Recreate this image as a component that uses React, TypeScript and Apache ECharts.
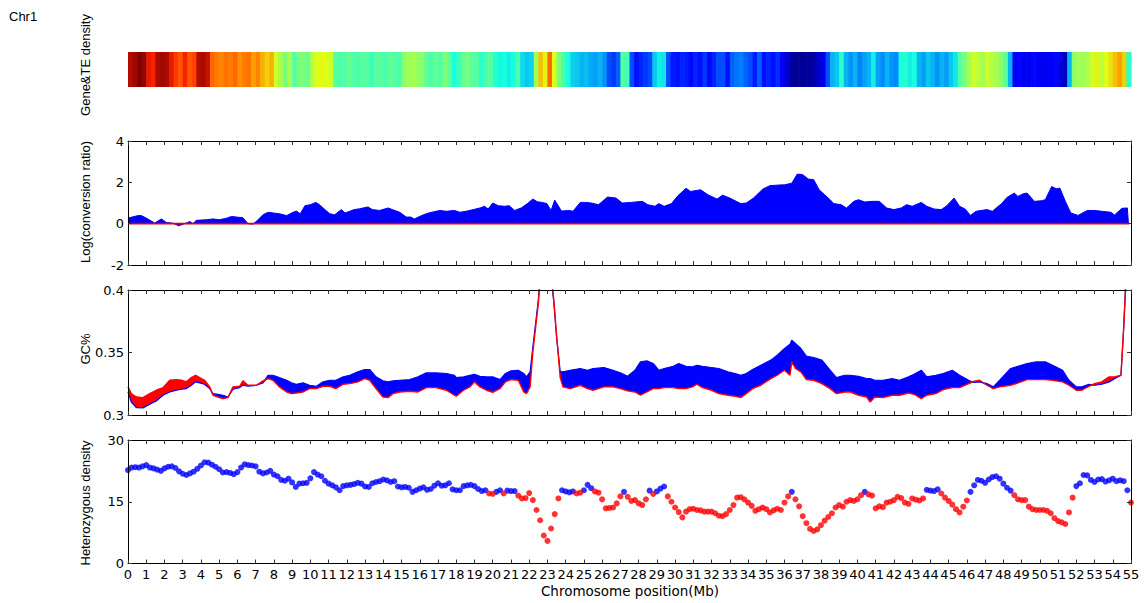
import React, { useEffect, useRef } from 'react';
import * as echarts from 'echarts';

// ---------- DATA ----------
const chromName = 'Chr1';
const xMin = 0;
const xMax = 55;

// Gene & TE density strip (0.25 Mb bins, 0..1 scaled)
const heatStep = 0.25;
const heatValues = [
  0.95,0.97,1.0,0.98,0.9,0.88,0.96,0.97,0.96,0.9,0.85,0.82,0.88,0.82,0.84,0.95,0.96,0.93,0.8,0.78,
  0.77,0.79,0.78,0.8,0.76,0.78,0.79,0.74,0.77,0.72,0.68,0.72,0.6,0.55,0.5,0.55,0.45,0.5,0.5,0.48,
  0.58,0.62,0.63,0.62,0.6,0.46,0.44,0.45,0.47,0.45,0.44,0.46,0.45,0.42,0.46,0.45,0.44,0.47,0.45,0.44,
  0.52,0.54,0.55,0.53,0.52,0.46,0.44,0.47,0.45,0.5,0.46,0.38,0.42,0.47,0.5,0.46,0.45,0.4,0.44,0.46,
  0.4,0.37,0.38,0.36,0.38,0.44,0.34,0.32,0.33,0.55,0.7,0.64,0.8,0.62,0.5,0.44,0.38,0.33,0.32,0.3,
  0.31,0.29,0.28,0.3,0.27,0.2,0.18,0.22,0.45,0.43,0.2,0.14,0.16,0.18,0.2,0.32,0.36,0.35,0.2,0.15,
  0.14,0.16,0.15,0.13,0.16,0.14,0.18,0.13,0.16,0.2,0.2,0.14,0.22,0.24,0.25,0.22,0.2,0.15,0.22,0.14,
  0.16,0.14,0.17,0.12,0.08,0.03,0.02,0.02,0.03,0.02,0.04,0.08,0.1,0.2,0.3,0.32,0.4,0.3,0.27,0.3,
  0.25,0.28,0.3,0.36,0.28,0.26,0.3,0.27,0.26,0.38,0.4,0.36,0.38,0.3,0.28,0.32,0.3,0.27,0.3,0.28,
  0.32,0.35,0.45,0.5,0.55,0.6,0.58,0.55,0.6,0.57,0.55,0.52,0.46,0.3,0.12,0.13,0.12,0.11,0.13,0.12,
  0.11,0.12,0.12,0.13,0.1,0.06,0.3,0.52,0.55,0.54,0.56,0.6,0.64,0.58,0.62,0.66,0.7,0.74,0.68,0.4,
];

// Log(conversion ratio)
const convPos = [
  0,0.55,0.73,1.0,1.46,1.83,2.1,2.47,2.78,3.1,3.4,3.56,3.75,4.3,4.66,5.0,5.4,5.67,5.94,6.3,6.58,6.86,7.1,7.4,7.68,7.95,8.3,8.7,9.05,9.23,9.45,9.7,10.0,10.3,10.5,10.8,11.06,11.33,11.7,11.9,12.16,12.4,12.7,13.16,13.4,13.8,14.26,14.5,14.9,15.26,15.5,15.7,16.2,16.5,17.1,17.45,17.9,18.2,18.6,19.3,19.55,19.75,20.0,20.3,20.66,20.9,21.2,21.56,21.9,22.2,22.45,22.7,22.97,23.2,23.4,23.5,23.77,24.2,24.4,24.8,25.1,25.4,25.8,26.3,26.76,27.1,27.6,28.2,28.5,28.9,29.1,29.4,29.8,30.15,30.6,30.85,31.4,31.8,32.3,32.6,33.0,33.6,33.9,34.3,34.8,35.2,35.7,36.0,36.4,36.7,37.0,37.3,37.6,37.9,38.2,38.5,38.7,39.1,39.4,39.8,40.06,40.4,40.8,41.2,41.6,42.0,42.4,42.7,43.0,43.5,43.8,44.2,44.6,44.9,45.3,45.6,45.9,46.2,46.5,47.1,47.4,47.9,48.2,48.6,48.8,49.1,49.3,49.7,50.1,50.3,50.65,50.9,51.1,51.4,51.7,52.1,52.6,53.0,53.4,53.9,54.1,54.5,54.8,54.86,
];
const convVal = [
  0.27,0.39,0.39,0.27,0.03,0.23,0.06,0.02,-0.1,0.0,0.1,0.0,0.16,0.19,0.23,0.19,0.26,0.35,0.32,0.29,0.0,-0.02,0.16,0.43,0.55,0.52,0.48,0.39,0.55,0.61,0.48,0.87,0.92,1.03,0.92,0.68,0.48,0.43,0.68,0.52,0.6,0.68,0.72,0.81,0.68,0.64,0.76,0.68,0.55,0.32,0.32,0.23,0.43,0.52,0.64,0.6,0.64,0.55,0.61,0.76,0.84,0.71,1.0,0.87,0.84,0.87,0.64,0.76,0.97,1.19,1.06,1.03,0.97,0.64,1.14,1.0,0.61,0.64,0.6,1.03,1.03,1.0,0.92,1.29,1.24,1.0,1.03,1.08,0.92,0.84,0.97,0.84,0.97,1.35,1.71,1.56,1.64,1.4,1.19,1.38,1.24,0.97,1.0,1.24,1.67,1.84,1.87,1.88,1.96,2.4,2.37,2.16,2.13,1.64,1.4,1.16,0.97,0.92,0.76,1.08,1.16,1.05,1.08,1.08,0.76,0.68,0.76,0.92,0.84,1.03,0.84,0.71,0.68,0.87,1.24,0.84,0.71,0.4,0.6,0.68,0.6,0.97,1.27,1.48,1.32,1.45,1.48,1.08,1.11,1.16,1.8,1.69,1.72,1.08,0.52,0.4,0.64,0.64,0.6,0.55,0.42,0.74,0.76,0.0,
];
const refLinePos = [0, 54.9];
const refLineVal = [0, 0];

// GC%
const gcPos = [
  0,0.18,0.46,0.82,1.19,1.55,1.92,2.29,2.65,2.93,3.2,3.47,3.71,3.93,4.2,4.48,4.66,4.94,5.2,5.48,5.76,6.12,6.3,6.58,7.04,7.4,7.68,7.95,8.3,8.7,8.96,9.23,9.6,9.96,10.33,10.7,11.06,11.4,11.8,12.16,12.6,12.98,13.25,13.6,13.98,14.26,14.53,14.9,15.45,15.9,16.36,16.9,17.46,17.9,18.0,18.4,18.75,19.0,19.3,19.66,20.0,20.4,20.7,21.0,21.4,21.7,21.85,22.05,22.2,22.5,22.65,22.8,23.0,23.2,23.35,23.5,23.7,23.85,24.25,24.8,25.2,25.5,26.1,26.6,27.0,27.4,27.8,28.1,28.45,28.8,29.1,29.4,29.9,30.2,30.6,30.95,31.2,31.5,32.0,32.4,32.9,33.3,33.6,33.9,34.25,34.7,35.25,35.6,36.0,36.3,36.4,36.6,36.9,37.2,37.6,38.05,38.5,38.85,39.3,39.6,40.06,40.5,40.7,40.95,41.4,41.9,42.3,42.8,43.1,43.5,43.8,44.3,44.7,45.2,45.6,46.1,46.35,46.7,47.1,47.45,47.8,48.4,48.7,49.3,49.8,50.3,50.7,51.25,51.6,52.0,52.3,52.7,53.0,53.4,53.8,54.1,54.45,54.6,54.75,55.0,
];
const gcBlue = [
  0.3184,0.3104,0.3059,0.3056,0.3086,0.3112,0.3158,0.3184,0.3198,0.3206,0.3211,0.3238,0.3265,0.3257,0.3246,0.3211,0.3171,0.3166,0.3158,0.3144,0.3206,0.3219,0.3238,0.323,0.3238,0.3257,0.3318,0.3318,0.3299,0.3278,0.3257,0.3246,0.3257,0.3238,0.323,0.3265,0.3278,0.3278,0.3305,0.3318,0.3345,0.3364,0.3364,0.3305,0.3273,0.3265,0.3273,0.3278,0.3283,0.3305,0.3337,0.3337,0.3332,0.3318,0.3299,0.3305,0.3318,0.3326,0.331,0.3305,0.3305,0.3283,0.3332,0.3353,0.3358,0.3332,0.3305,0.3345,0.3545,0.392,0.42,0.44,0.44,0.41,0.39,0.3626,0.335,0.3345,0.3358,0.3372,0.3358,0.3372,0.338,0.3358,0.3337,0.331,0.3358,0.3425,0.3433,0.3412,0.3358,0.3372,0.339,0.3412,0.339,0.3385,0.3398,0.339,0.338,0.3372,0.3345,0.3332,0.3318,0.3332,0.3364,0.3398,0.3439,0.3479,0.3532,0.3567,0.3599,0.3572,0.3532,0.3471,0.346,0.3439,0.3358,0.3299,0.3318,0.3318,0.331,0.3291,0.3291,0.3278,0.3278,0.3291,0.3278,0.3305,0.3326,0.3358,0.3305,0.3318,0.3332,0.3358,0.3318,0.3278,0.326,0.3265,0.3251,0.3225,0.3278,0.3372,0.3385,0.3412,0.3425,0.3425,0.3398,0.3358,0.3278,0.3225,0.3225,0.3246,0.3238,0.3246,0.3265,0.3291,0.3318,0.37,0.42,0.46,
];
const gcRed = [
  0.3225,0.3171,0.3144,0.3139,0.3171,0.3198,0.3219,0.3278,0.3283,0.3278,0.3265,0.3299,0.3318,0.3299,0.3278,0.3225,0.3158,0.3144,0.3131,0.3139,0.3225,0.323,0.3273,0.3238,0.3238,0.3273,0.3291,0.3278,0.3225,0.3184,0.3171,0.3176,0.3184,0.3211,0.3211,0.323,0.323,0.3211,0.3246,0.3251,0.3265,0.3291,0.3278,0.3211,0.3144,0.3139,0.3171,0.3184,0.319,0.3184,0.3219,0.3219,0.3198,0.3158,0.315,0.3198,0.3225,0.3265,0.3225,0.3198,0.3182,0.3211,0.3265,0.3283,0.3278,0.3184,0.3171,0.3225,0.3505,0.389,0.418,0.44,0.44,0.412,0.392,0.364,0.33,0.3225,0.3211,0.3238,0.3211,0.3198,0.3225,0.3225,0.3211,0.3193,0.3184,0.3158,0.3184,0.3211,0.3211,0.3219,0.3219,0.3211,0.3211,0.3225,0.3246,0.3219,0.3198,0.3171,0.3158,0.315,0.3139,0.3171,0.3211,0.3238,0.3291,0.3318,0.3358,0.3318,0.3425,0.3372,0.3345,0.3283,0.3278,0.3251,0.3211,0.3171,0.3184,0.3184,0.3158,0.3144,0.3104,0.3144,0.3139,0.3158,0.3158,0.3176,0.3166,0.3131,0.3158,0.3171,0.3203,0.3219,0.3219,0.3251,0.3268,0.3278,0.3238,0.3211,0.3225,0.3238,0.3251,0.3283,0.3283,0.3283,0.3278,0.3265,0.3238,0.3198,0.3198,0.323,0.3251,0.3265,0.3305,0.3305,0.3318,0.37,0.415,0.46,
];

// Heterozygous density (0.2 Mb steps)
const hetStep = 0.2;
const hetValues = [
  22.7,23.3,23.4,23.3,23.6,23.9,23.3,23.1,22.8,22.5,23.1,23.5,23.6,23.2,22.4,21.8,21.5,21.9,22.3,23.0,23.8,24.6,24.5,24.0,23.5,
  22.9,22.1,22.2,22.0,21.7,22.2,23.3,24.1,23.9,23.8,23.6,22.3,21.9,22.1,22.5,21.6,21.2,20.3,20.1,20.6,19.7,18.6,19.4,19.5,19.6,
  20.7,22.2,21.6,21.2,20.1,19.4,19.0,18.5,17.8,18.8,19.0,19.1,19.3,19.6,19.4,18.7,18.6,19.5,19.8,20.0,20.4,20.2,19.8,20.0,18.7,
  18.5,18.6,18.4,17.4,17.8,18.2,18.5,17.9,18.1,18.9,19.5,18.9,19.0,19.5,18.0,17.8,17.8,18.8,19.0,19.1,18.8,18.1,17.6,17.8,17.0,
  16.9,17.4,17.8,17.0,17.7,17.6,17.6,16.5,15.8,15.9,17.1,15.4,13.0,10.5,6.8,5.5,8.5,12.0,15.8,17.8,17.5,17.3,17.5,17.0,17.2,
  17.8,19.1,18.3,17.5,17.2,15.6,13.4,13.5,13.6,14.6,16.3,17.4,16.2,15.2,15.4,14.6,14.2,15.6,17.7,16.9,17.5,18.2,18.7,16.3,15.0,
  13.6,12.5,11.2,12.6,13.2,13.3,13.0,12.9,12.6,12.6,12.6,12.2,11.6,11.5,12.0,13.0,14.2,16.0,16.1,15.6,14.8,14.0,12.8,13.2,13.6,
  13.2,12.4,12.9,13.3,13.0,14.8,16.3,17.4,15.6,13.9,11.5,9.8,8.4,7.9,8.3,9.3,10.4,11.3,12.2,13.6,14.2,13.8,15.0,15.4,15.2,
  15.6,16.6,17.4,16.8,16.5,13.4,13.9,13.7,14.8,15.0,15.4,16.2,15.9,14.8,14.5,15.8,15.5,15.3,15.8,17.9,17.7,17.6,18.0,17.0,16.0,
  15.2,14.3,13.2,12.4,13.8,15.3,17.4,19.0,20.3,20.1,19.6,20.4,21.0,21.2,20.6,19.4,18.4,17.7,16.6,15.6,15.4,15.4,13.8,13.2,13.0,
  13.0,13.0,12.8,12.2,11.0,10.3,10.0,9.6,12.4,16.0,18.8,19.5,21.5,21.4,20.3,19.8,20.4,20.5,19.9,20.2,20.6,20.0,20.2,20.0,17.8,
  14.8,
];
// Stretches (Mb) where the heterozygous points are drawn red
const hetRedRanges = [
  [19.7, 20.1], [20.5, 20.7], [21.3, 23.7], [24.5, 24.9], [25.5, 27.1], [27.3, 28.5],
  [28.7, 28.9], [29.5, 36.3], [36.5, 40.3], [40.5, 43.7], [44.5, 46.1], [48.5, 51.9], [54.9, 55.1],
];

const titles = {
  heat: 'Gene&TE density',
  conv: 'Log(conversion ratio)',
  gc: 'GC%',
  het: 'Heterozygous density',
  x: 'Chromosome position(Mb)',
};

// ---------- STYLE ----------
const BLUE = '#0000ff';
const RED = '#ff0000';
const TICK_FONT = "'DejaVu Sans', sans-serif";
const TITLE_FONT = "'Liberation Sans', Arial, sans-serif";
const JET = ['#000080', '#0000ff', '#0080ff', '#14ffe2', '#7bff7b', '#e2ff14', '#ff9700', '#ff2100', '#800000'];

const LEFT = 128;
const WIDTH = 1003;
const grids = [
  { left: LEFT, top: 52, width: WIDTH, height: 35 },
  { left: LEFT, top: 141, width: WIDTH, height: 124 },
  { left: LEFT, top: 290, width: WIDTH, height: 125 },
  { left: LEFT, top: 440, width: WIDTH, height: 123.5 },
];

function xAxisCfg(gridIndex: number, position: string, labels: boolean) {
  return {
    type: 'value', gridIndex, position, min: xMin, max: xMax, interval: 1, z: 10,
    axisLine: { show: true, onZero: false, lineStyle: { color: '#000', width: 1 } },
    axisTick: { show: true, inside: true, length: 4, lineStyle: { color: '#333', width: 1 } },
    axisLabel: {
      show: labels, fontFamily: TICK_FONT, fontSize: 13, color: '#000', margin: 4,
      showMinLabel: true, showMaxLabel: true,
    },
    splitLine: { show: false },
  };
}
function yAxisCfg(gridIndex: number, position: string, labels: boolean, min: number, max: number, interval: number) {
  return {
    type: 'value', gridIndex, position, min, max, interval, z: 10,
    axisLine: { show: true, onZero: false, lineStyle: { color: '#000', width: 1 } },
    axisTick: { show: true, inside: true, length: 4, lineStyle: { color: '#333', width: 1 } },
    axisLabel: {
      show: labels, fontFamily: TICK_FONT, fontSize: 13, color: '#000', margin: 4,
      showMinLabel: true, showMaxLabel: true,
    },
    splitLine: { show: false },
  };
}

function vText(text: string, x: number, y: number) {
  return {
    type: 'text', x, y, rotation: Math.PI / 2, z: 20,
    style: { text, fontFamily: TITLE_FONT, fontSize: 13, fill: '#000', textAlign: 'center', textVerticalAlign: 'middle' },
  };
}

function buildOption() {
  const heatData = heatValues.map((v, i) => [i * heatStep, (i + 1) * heatStep, v]);
  const convData = convPos.map((x, i) => [x, convVal[i]]);
  const refData = refLinePos.map((x, i) => [x, refLineVal[i]]);
  const gcBlueData = gcPos.map((x, i) => [x, gcBlue[i]]);
  const gcRedData = gcPos.map((x, i) => [x, gcRed[i]]);
  const gcLowData = gcPos.map((x, i) => [x, Math.min(gcBlue[i], gcRed[i])]);
  const isRed = (x: number) => hetRedRanges.some(([a, b]) => x >= a && x <= b);
  const hetPts = hetValues.map((v, i) => [i * hetStep, v]);
  const hetBlue = hetPts.filter((p) => !isRed(p[0]));
  const hetRed = hetPts.filter((p) => isRed(p[0]));

  const fill = (color: string) => ({ color, opacity: 1, origin: 'start' });

  return {
    animation: false,
    backgroundColor: '#fff',
    grid: grids,
    xAxis: [
      { type: 'value', gridIndex: 0, min: xMin, max: xMax, show: false },
      xAxisCfg(1, 'bottom', false), xAxisCfg(1, 'top', false),
      xAxisCfg(2, 'bottom', false), xAxisCfg(2, 'top', false),
      xAxisCfg(3, 'bottom', true), xAxisCfg(3, 'top', false),
    ],
    yAxis: [
      { type: 'value', gridIndex: 0, min: 0, max: 1, show: false },
      yAxisCfg(1, 'left', true, -2, 4, 2), yAxisCfg(1, 'right', false, -2, 4, 2),
      yAxisCfg(2, 'left', true, 0.3, 0.4, 0.05), yAxisCfg(2, 'right', false, 0.3, 0.4, 0.05),
      yAxisCfg(3, 'left', true, 0, 30, 15), yAxisCfg(3, 'right', false, 0, 30, 15),
    ],
    visualMap: [{
      type: 'continuous', show: false, seriesIndex: 0, dimension: 2, min: 0, max: 1,
      inRange: { color: JET },
    }],
    series: [
      {
        type: 'custom', xAxisIndex: 0, yAxisIndex: 0, data: heatData,
        encode: { x: [0, 1], y: 2 },
        renderItem: (params: any, api: any) => {
          const p0 = api.coord([api.value(0), 1]);
          const p1 = api.coord([api.value(1), 0]);
          return {
            type: 'rect',
            shape: { x: p0[0], y: p0[1], width: p1[0] - p0[0] + 0.6, height: p1[1] - p0[1] },
            style: { fill: api.visual('color') },
          };
        },
      },
      {
        type: 'line', xAxisIndex: 1, yAxisIndex: 1, data: convData, symbol: 'none', z: 2,
        lineStyle: { color: BLUE, width: 1 }, areaStyle: { color: BLUE, opacity: 1 },
      },
      {
        type: 'line', xAxisIndex: 1, yAxisIndex: 1, data: refData, symbol: 'none', z: 3,
        lineStyle: { color: '#e00000', width: 1.6 },
      },
      {
        type: 'line', xAxisIndex: 3, yAxisIndex: 3, data: gcRedData, symbol: 'none', z: 2,
        lineStyle: { width: 0 }, areaStyle: fill(RED),
      },
      {
        type: 'line', xAxisIndex: 3, yAxisIndex: 3, data: gcBlueData, symbol: 'none', z: 3,
        lineStyle: { width: 0 }, areaStyle: fill(BLUE),
      },
      {
        type: 'line', xAxisIndex: 3, yAxisIndex: 3, data: gcLowData, symbol: 'none', z: 4,
        lineStyle: { width: 0 }, areaStyle: fill('#ffffff'),
      },
      {
        type: 'line', xAxisIndex: 3, yAxisIndex: 3, data: gcBlueData, symbol: 'none', z: 5,
        lineStyle: { color: BLUE, width: 1.2 },
      },
      {
        type: 'line', xAxisIndex: 3, yAxisIndex: 3, data: gcRedData, symbol: 'none', z: 6,
        lineStyle: { color: RED, width: 1.4 },
      },
      {
        type: 'scatter', xAxisIndex: 5, yAxisIndex: 5, data: hetBlue, symbol: 'circle', symbolSize: 6,
        itemStyle: { color: BLUE }, z: 3,
      },
      {
        type: 'scatter', xAxisIndex: 5, yAxisIndex: 5, data: hetRed, symbol: 'circle', symbolSize: 6,
        itemStyle: { color: RED }, z: 3,
      },
    ],
    graphic: [
      {
        type: 'text', x: 9, y: 16, z: 20,
        style: { text: chromName, fontFamily: TITLE_FONT, fontSize: 13, fill: '#000', textAlign: 'left', textVerticalAlign: 'middle' },
      },
      vText(titles.heat, 85, 65),
      vText(titles.conv, 85, 202),
      vText(titles.gc, 85, 349),
      vText(titles.het, 85, 503),
      {
        type: 'text', x: 630, y: 591, z: 20,
        style: { text: titles.x, fontFamily: TICK_FONT, fontSize: 13.5, fill: '#000', textAlign: 'center', textVerticalAlign: 'middle' },
      },
    ],
  };
}

export default function App() {
  const ref = useRef<HTMLDivElement>(null);
  useEffect(() => {
    document.body.style.margin = '0';
    if (!ref.current) return;
    const chart = echarts.init(ref.current, undefined, { renderer: 'svg' });
    chart.setOption(buildOption() as any);
    return () => chart.dispose();
  }, []);
  return <div ref={ref} style={{ width: 1148, height: 603 }} />;
}
